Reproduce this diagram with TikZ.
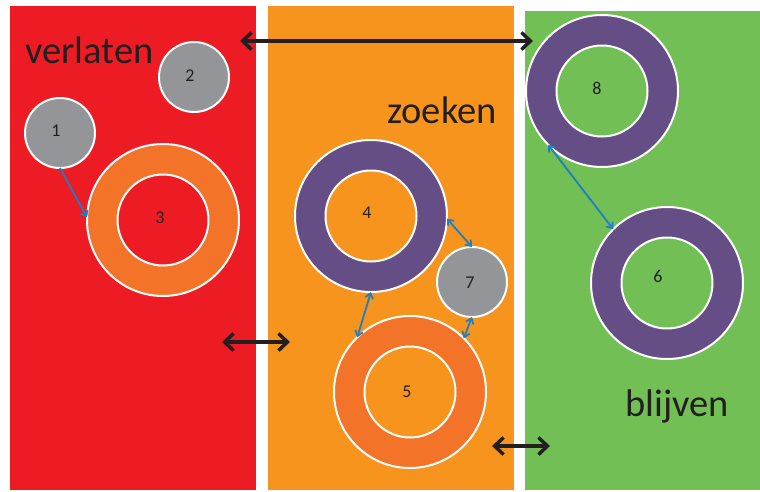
\documentclass[tikz,border=0pt]{standalone}
\usepackage{fontspec}
\setmainfont{Carlito}
\usetikzlibrary{arrows.meta}
\definecolor{pred}{HTML}{ED1C24}
\definecolor{porange}{HTML}{F7941E}
\definecolor{pgreen}{HTML}{71BF55}
\definecolor{rorange}{HTML}{F37329}
\definecolor{rpurple}{HTML}{654D85}
\definecolor{cgray}{HTML}{939598}
\definecolor{ablue}{HTML}{1F7FC2}
\definecolor{tblack}{HTML}{231F20}
\tikzset{
  ring/.style={circle,draw=white,line width=2pt,minimum size=152pt,inner sep=0pt,outer sep=0pt},
  hole/.style={circle,draw=white,line width=2pt,minimum size=91pt,inner sep=0pt,outer sep=0pt},
  dot/.style={circle,draw=white,line width=2pt,fill=cgray,minimum size=70pt,inner sep=0pt,outer sep=0pt},
  num/.style={font=\fontsize{18}{20}\selectfont,text=tblack,inner sep=0pt},
  bigword/.style={font=\fontsize{38.5}{42}\selectfont,text=tblack,inner sep=0pt,anchor=base west},
  barrow/.style={draw=tblack,line width=3.5pt,{Straight Barb[length=9pt,width=17pt]}-{Straight Barb[length=9pt,width=17pt]}},
  larrow/.style={draw=ablue,line width=1.8pt,{Straight Barb[length=5pt,width=8pt]}-{Straight Barb[length=5pt,width=8pt]}},
  sarrow/.style={draw=ablue,line width=1.8pt,-{Straight Barb[length=5pt,width=8pt]}}
}
\begin{document}
\begin{tikzpicture}[x=1pt,y=-1pt]
\fill[white] (0,0) rectangle (760,491);
\useasboundingbox (0,0) rectangle (760,491);
% panels
\fill[pred] (10,6) rectangle (256,490);
\fill[porange] (268,6) rectangle (514,490);
\fill[pgreen] (525,11) rectangle (760,490);
% words
\node[bigword] (w1) at (25,63) {verlaten};
\node[bigword] (w2) at (387,123) {zoeken};
\node[bigword] (w3) at (625,416) {blijven};
% gray dots
\node[dot] (c1) at (60,133) {};
\node[dot] (c2) at (194,77) {};
\node[dot] (c7) at (472,282) {};
% rings
\node[ring,fill=rorange] (c3) at (163,220) {};
\node[hole,fill=pred] (h3) at (163,220) {};
\node[ring,fill=rpurple] (c4) at (371,216) {};
\node[hole,fill=porange] (h4) at (371,216) {};
\node[ring,fill=rorange] (c5) at (410,392) {};
\node[hole,fill=porange] (h5) at (410,392) {};
\node[ring,fill=rpurple] (c6) at (667,283) {};
\node[hole,fill=pgreen] (h6) at (667,283) {};
\node[ring,fill=rpurple] (c8) at (602,91) {};
\node[hole,fill=pgreen] (h8) at (602,91) {};
% labels
\node[num] (t1) at (56,131) {1};
\node[num] (t2) at (190,76) {2};
\node[num] (t3) at (160,218) {3};
\node[num] (t4) at (367,213) {4};
\node[num] (t5) at (407,392) {5};
\node[num] (t6) at (658,276) {6};
\node[num] (t7) at (470,283) {7};
\node[num] (t8) at (597,88) {8};
% blue connectors
\draw[sarrow] (c1.-90) -- (c3.178);
\draw[larrow] (c4.-2) -- (c7.90);
\draw[larrow] (c4.-90) -- (c5.134);
\draw[larrow] (c7.-90) -- (c5.45);
\draw[larrow] (c8.225) -- (c6.135);
% black arrows
\coordinate (a1) at (240,41);
\coordinate (a2) at (533,41);
\coordinate (b1) at (222,342);
\coordinate (b2) at (290,342);
\coordinate (d1) at (492,446);
\coordinate (d2) at (550,446);
\draw[barrow] (a1) -- (a2);
\draw[barrow] (b1) -- (b2);
\draw[barrow] (d1) -- (d2);
\end{tikzpicture}
\end{document}
